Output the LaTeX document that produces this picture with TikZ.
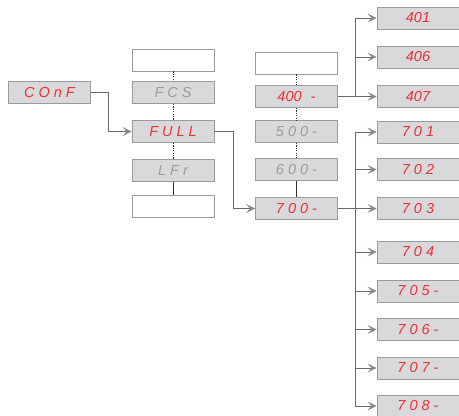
\documentclass[tikz,border=0pt]{standalone}
\usepackage{fontspec}
\newfontfamily\segfont{Liberation Sans}
\usetikzlibrary{arrows.meta}
\newcommand\segsp{\hspace{4pt}}
\definecolor{boxfill}{HTML}{D9D9DB}
\definecolor{boxline}{HTML}{9A9A9C}
\definecolor{segred}{HTML}{EC3038}
\definecolor{seggray}{HTML}{9C9C9E}
\definecolor{wire}{HTML}{6A6A6C}
\definecolor{tipgray}{HTML}{8A8A8C}
\begin{document}
\begin{tikzpicture}[x=1pt,y=-1pt,
  disp/.style={draw=boxline, line width=0.9pt, fill=boxfill, minimum width=82pt, minimum height=22pt, inner sep=0pt,
    font=\segfont\itshape\fontsize{14.5}{14.5}\selectfont, text=segred},
  dim/.style={disp, text=seggray},
  blank/.style={draw=boxline, line width=0.9pt, fill=white, minimum width=82pt, minimum height=22pt, inner sep=0pt},
  wireline/.style={draw=wire, line width=0.9pt},
  arr/.style={wireline, -{Stealth[length=9pt,width=9pt,inset=4pt,color=tipgray]}},
  dotline/.style={draw=black!80, line width=0.7pt, dash pattern=on 1.2pt off 1.2pt},
  solidlink/.style={draw=black!80, line width=0.7pt}]
\useasboundingbox (0,0) rectangle (459,416);
% column 1
\node[disp] (conf) at (49.5,92.5) {C\segsp O\segsp n\segsp F};
% column 2
\node[blank] (b2t) at (173,60) {};
\node[dim] (fcs) at (173,92.5) {F\segsp C\segsp S};
\node[disp] (full) at (173,131.5) {F\segsp U\segsp L\segsp L};
\node[dim] (lfr) at (173,170.5) {L\segsp F\segsp r};
\node[blank] (b2b) at (173,206) {};
% column 3
\node[blank] (b3t) at (296.5,63) {};
\node[disp] (c400) at (296.5,96.5) {400\hspace{9pt}-};
\node[dim] (c500) at (296.5,131.5) {5\segsp 0\segsp 0\segsp -};
\node[dim] (c600) at (296.5,169.5) {6\segsp 0\segsp 0\segsp -};
\node[disp] (c700) at (296.5,208.5) {7\segsp 0\segsp 0\segsp -};
% column 4
\node[disp] (c401) at (418,18) {401};
\node[disp] (c406) at (418,57) {406};
\node[disp] (c407) at (418,96.5) {407};
\node[disp] (c701) at (418,132) {7\segsp 0\segsp 1};
\node[disp] (c702) at (418,169.5) {7\segsp 0\segsp 2};
\node[disp] (c703) at (418,208.5) {7\segsp 0\segsp 3};
\node[disp] (c704) at (418,252) {7\segsp 0\segsp 4};
\node[disp] (c705) at (418,291) {7\segsp 0\segsp 5\segsp -};
\node[disp] (c706) at (418,329.5) {7\segsp 0\segsp 6\segsp -};
\node[disp] (c707) at (418,368) {7\segsp 0\segsp 7\segsp -};
\node[disp] (c708) at (418,406) {7\segsp 0\segsp 8\segsp -};
% vertical links
\draw[dotline] (b2t.south) -- (fcs.north);
\draw[dotline] (fcs.south) -- (full.north);
\draw[dotline] (full.south) -- (lfr.north);
\draw[solidlink] (lfr.south) -- (b2b.north);
\draw[dotline] (b3t.south) -- (c400.north);
\draw[dotline] (c400.south) -- (c500.north);
\draw[dotline] (c500.south) -- (c600.north);
\draw[solidlink] (c600.south) -- (c700.north);
% connectors
\coordinate (k1) at (108,92.5);
\coordinate (k2) at (233,131.5);
\draw[arr] (conf.east) -- (k1) |- (full.west);
\draw[arr] (full.east) -- (k2) |- (c700.west);
\coordinate (v4) at (355,96.5);
\coordinate (v7) at (355,208.5);
\draw[wireline] (c400.east) -- (v4);
\draw[arr] (v4) -- (c407.west);
\draw[arr] (v4) |- (c401.west);
\draw[arr] (v4) |- (c406.west);
\draw[wireline] (c700.east) -- (v7);
\draw[arr] (v7) -- (c703.west);
\foreach \n in {c701,c702,c704,c705,c706,c707,c708}
  \draw[arr] (v7) |- (\n.west);
\end{tikzpicture}
\end{document}
